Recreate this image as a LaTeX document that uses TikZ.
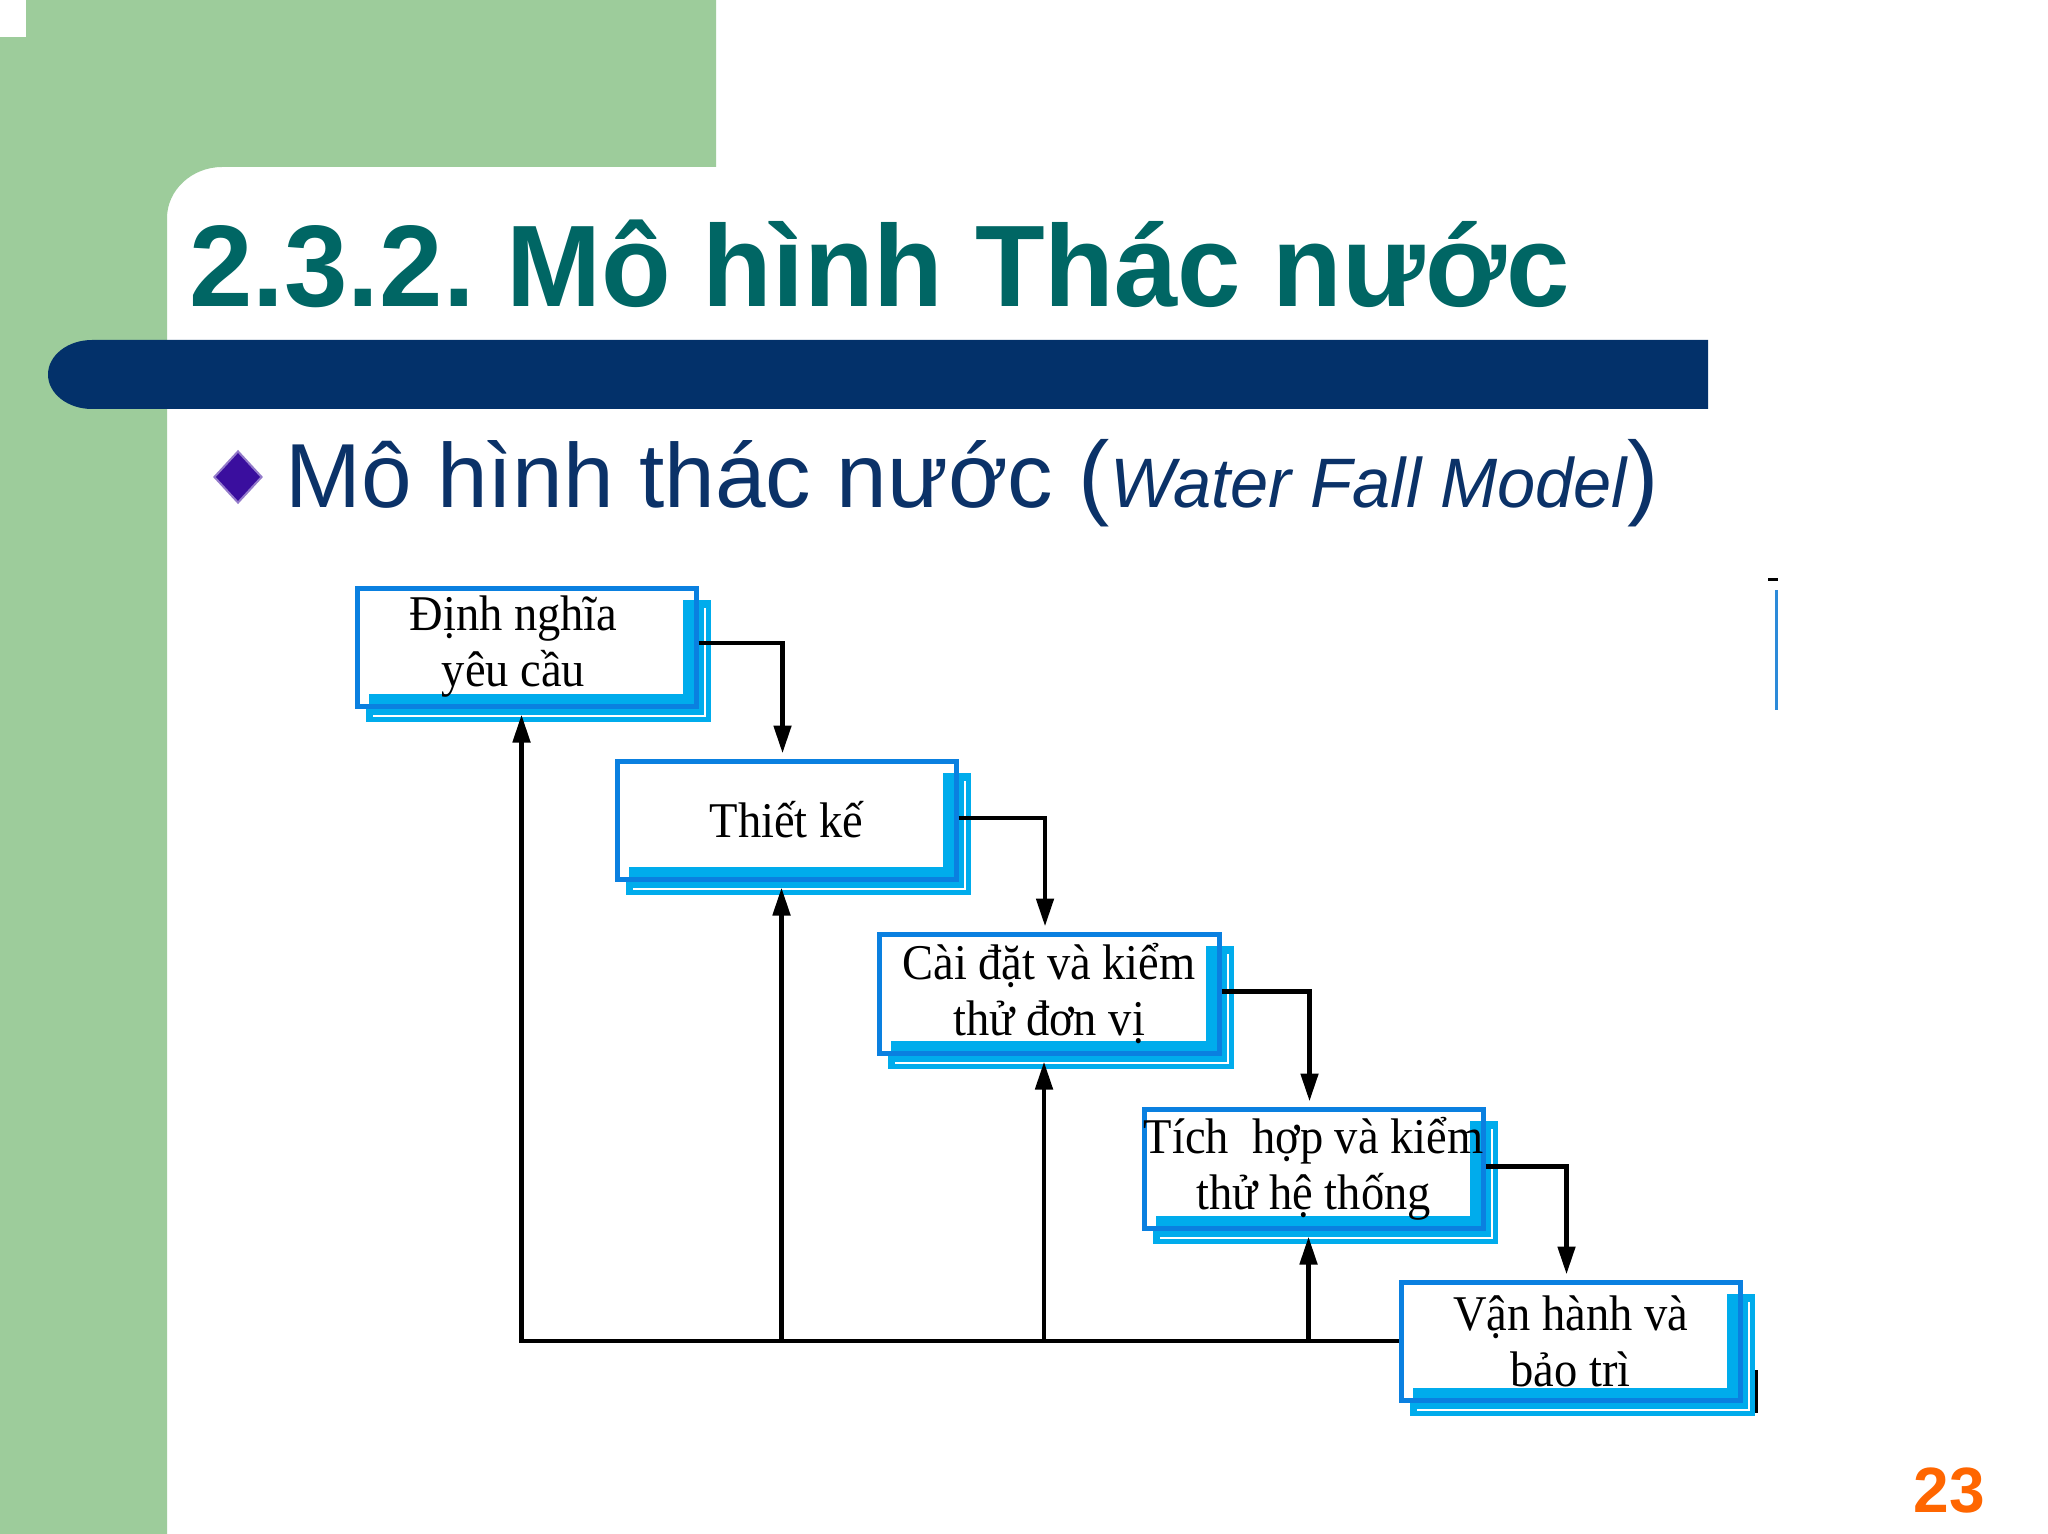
\documentclass[tikz,border=0pt]{standalone}
\usepackage{fontspec}
\setmainfont{Liberation Serif}
\newfontfamily\sansf{Liberation Sans}
\newfontfamily\titlef[FakeStretch=0.983]{Liberation Sans}
\newfontfamily\subf{Liberation Sans}
\newfontfamily\subitf[FakeStretch=0.98]{Liberation Sans Italic}
\newfontfamily\boxf[FakeStretch=0.93]{Liberation Serif}
\usetikzlibrary{arrows.meta,fit,shapes.geometric}
\definecolor{bggreen}{HTML}{9DCC9B}
\definecolor{titleteal}{HTML}{006664}
\definecolor{barnavy}{HTML}{03316A}
\definecolor{subnavy}{HTML}{0B3268}
\definecolor{bulletpurple}{HTML}{3A0E9E}
\definecolor{boxblue}{HTML}{0A80E0}
\definecolor{shadowcyan}{HTML}{00ACEC}
\definecolor{pageorange}{HTML}{FF6600}
\definecolor{markblue}{HTML}{2C8AD9}
\tikzset{
  stagebox/.style={draw=boxblue, line width=2.5pt, fill=white, inner sep=0pt},
  boxtext/.style={inner sep=0pt, align=center, font=\boxf\fontsize{25}{28}\selectfont},
  flow/.style={draw=black, line width=2.4pt, -{Triangle[length=14pt,width=8.5pt]}},
}
\newcommand\stage[7][0pt]{%
  \fill[shadowcyan] ({#3+9},{#4+12}) rectangle ({#5+15},{#6+16});
  \draw[white, line width=0.9pt] ({#3+16},{#6+10}) -- ({#5+9},{#6+10}) -- ({#5+9},{#4+20});
  \node[stagebox, fit={(#3,#4) (#5,#6)}] (#2) {};
  \fill[shadowcyan] ({#5-13},{#4+12}) rectangle ({#5-2},{#6-2});
  \fill[shadowcyan] ({#3+12},{#6-12}) rectangle ({#5-2},{#6-2});
  \node[boxtext] (#2-text) at ([xshift=#1]#2.center) {#7};
  \coordinate (#2-in) at ([xshift=-2pt]#2.north);
  \coordinate (#2-up) at ([xshift=-2.5pt]#2.south);
  \coordinate (#2-out) at ([yshift=1pt]#2.east);
}
\begin{document}
\frenchspacing
\begin{tikzpicture}[x=0.5pt,y=-0.5pt]
\useasboundingbox (0,0) rectangle (2048,1534);
\fill[white] (0,0) rectangle (2048,1534);
% background
\fill[bggreen] (0,0) -- (716,0) -- (716,167) -- (222,167) .. controls (192,167) and (167,190) .. (167,218) -- (167,1534) -- (0,1534) -- cycle;
\fill[white] (0,0) rectangle (26,37);
\fill[barnavy] (1708,409) -- (92,409) arc[start angle=90,end angle=270,x radius=44,y radius=34.5] -- (1708,340) -- cycle;
% texts
\node[anchor=base west, inner sep=0pt, font=\titlef\bfseries\fontsize{58}{60}\selectfont, text=titleteal] (title) at (189,307) {2.3.2. Mô hình Thác nước};
\node[diamond, fill=bulletpurple, draw=bulletpurple!55, line width=1pt, minimum width=24pt, minimum height=26pt, inner sep=0pt] (bullet) at (238,477) {};
\node[anchor=base west, inner sep=0pt, font=\subf\fontsize{45.5}{48}\selectfont, text=subnavy] (sub) at (285,507) {Mô hình thác nước {\fontsize{47}{50}\selectfont(}{\subitf\fontsize{35}{40}\selectfont Water Fall Model}{\fontsize{47}{50}\selectfont)}};
\node[anchor=base west, inner sep=0pt, font=\sansf\bfseries\fontsize{32}{36}\selectfont, text=pageorange] (pnum) at (1913,1512) {23};
% boxes
\stage[-6.5pt]{b1}{357}{588}{696}{706}{Định nghĩa\\yêu cầu}
\stage{b2}{617}{761}{956}{879}{Thiết kế}
\stage{b3}{879}{934}{1219}{1053}{Cài đặt và kiểm\\thử đơn vị}
\stage{b4}{1144}{1109}{1483}{1228}{Tích~ hợp và kiểm\\thử hệ thống}
\stage{b5}{1401}{1282}{1740}{1400}{Vận hành và\\bảo trì}
% forward connectors
\draw[flow, shorten >=2.5pt] ([yshift=1pt]b1-out) -| (b2-in);
\draw[flow, shorten >=2.5pt] (b2-out) -| (b3-in);
\draw[flow, shorten >=2.5pt] (b3-out) -| (b4-in);
\draw[flow, shorten >=2.5pt] (b4-out) -| (b5-in);
% feedback connectors
\draw[flow, shorten >=3pt] (b5.west) -- (b5.west -| b1-up) -- (b1-up);
\draw[flow, shorten >=3pt] (b5.west -| b2-up) -- (b2-up);
\draw[flow, shorten >=3pt] (b5.west -| b3-up) -- (b3-up);
\draw[flow, shorten >=3pt] (b5.west -| b4-up) -- (b4-up);
% stray marks
\draw[markblue, line width=1.5pt] (1776,590) -- (1776,710);
\draw[black, line width=1.5pt] (1768,579) -- (1778,579);
\draw[black, line width=1.5pt] (1756,1370) -- (1756,1413);
\end{tikzpicture}
\end{document}
